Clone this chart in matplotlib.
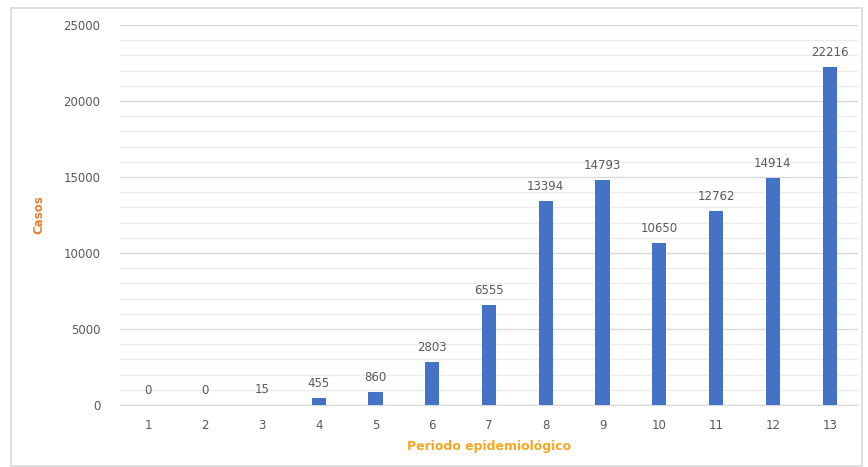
import numpy as np
import matplotlib.pyplot as plt
from matplotlib.patches import Rectangle

periodos = ['1', '2', '3', '4', '5', '6', '7', '8', '9', '10', '11', '12', '13']
casos = [0, 0, 15, 455, 860, 2803, 6555, 13394, 14793, 10650, 12762, 14914, 22216]

gris = '#595959'
azul = '#4472C4'

fig = plt.figure(figsize=(8.68, 4.67), dpi=100)
ax = fig.add_axes([120/868, 1 - 405/467, 738/868, 380/467])

# marco del gráfico
fig.patches.append(Rectangle((11/868, 0.003), 851/868, 1 - 8/467 - 0.003,
                             transform=fig.transFigure, fill=False,
                             edgecolor='#D9D9D9', linewidth=1.2))

x = np.arange(len(periodos))
barras = ax.bar(x, casos, width=0.25, color=azul, zorder=3)

for xi, v in zip(x, casos):
    ax.annotate(str(v), (xi, v), xytext=(0, 6), textcoords='offset points',
                ha='center', va='bottom', fontsize=8.5, color=gris)

ax.set_xlim(-0.5, len(periodos) - 0.5)
ax.set_ylim(0, 25000)
ax.set_yticks(np.arange(0, 25001, 5000))
ax.set_yticks(np.arange(0, 25001, 1000), minor=True)
ax.set_xticks(x)
ax.set_xticklabels(periodos)

ax.grid(axis='y', which='major', color='#D9D9D9', linewidth=1.0, zorder=0)
ax.grid(axis='y', which='minor', color='#EBEBEB', linewidth=0.9, zorder=0)
ax.tick_params(which='both', length=0, labelsize=8.5, labelcolor=gris)
ax.tick_params(axis='y', pad=14)
ax.tick_params(axis='x', pad=10)
for s in ['top', 'right', 'left']:
    ax.spines[s].set_visible(False)
ax.spines['bottom'].set_color('#D9D9D9')

ax.set_ylabel('Casos', color='#ED7D31', fontsize=8.5, fontweight='bold')
ax.yaxis.set_label_coords((45 - 120) / 738, 0.5)
ax.set_xlabel('Periodo epidemiológico', color='#F5A623', fontsize=9, fontweight='bold', labelpad=6)

fig.savefig('out.png', dpi=100)
